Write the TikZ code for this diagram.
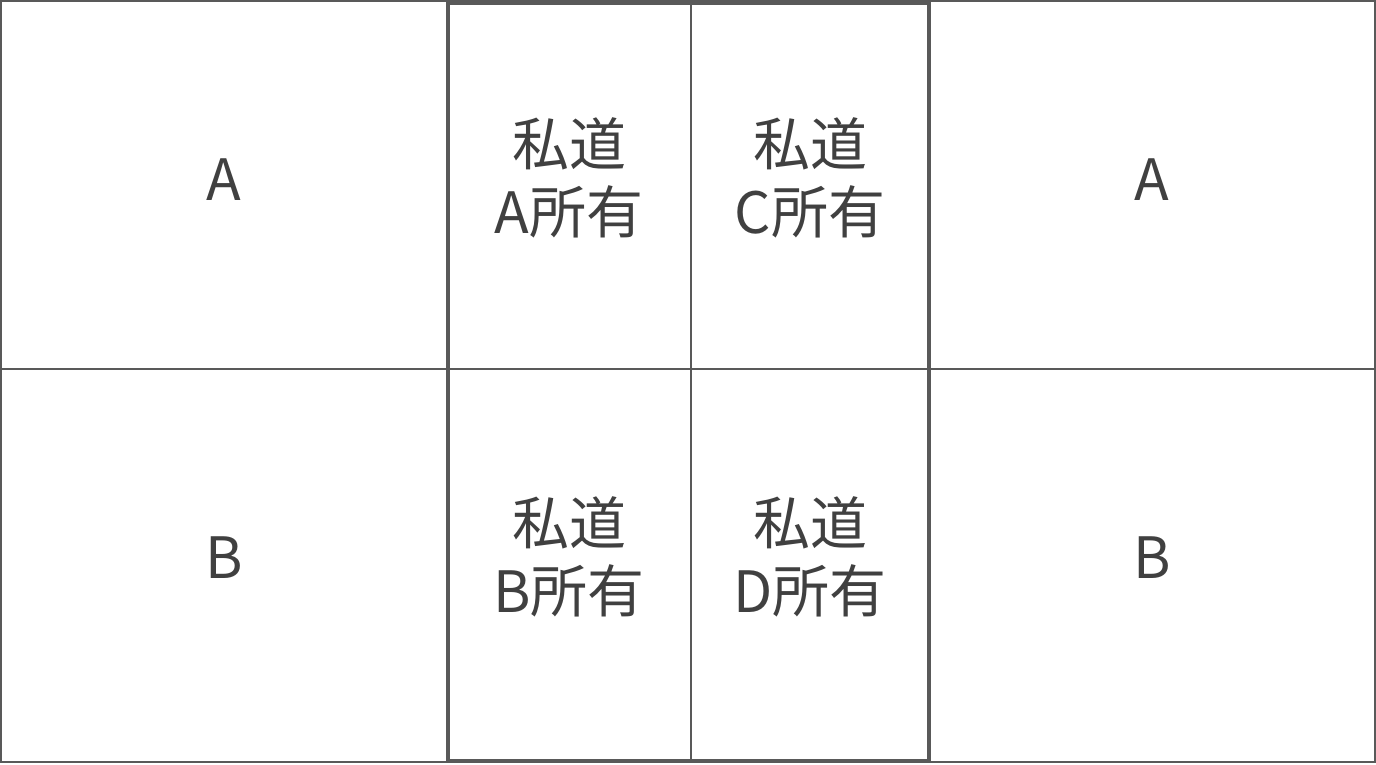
\documentclass[tikz,border=0pt]{standalone}
\usepackage{fontspec}
\setmainfont{Noto Sans CJK JP}
\definecolor{linegray}{HTML}{595959}
\definecolor{textgray}{HTML}{404040}
\begin{document}
\begin{tikzpicture}[x=1pt,y=-1pt,
  thinline/.style={draw=linegray,line width=2pt},
  thickline/.style={draw=linegray,line width=4.5pt},
  lbl/.style={text=textgray,font=\fontsize{57}{68}\selectfont,align=center,inner sep=0pt}]
\useasboundingbox (0,0) rectangle (1376,764);
% grid
\coordinate (tl) at (1,1);
\coordinate (br) at (1375,762);
\coordinate (ml) at (1,369);
\coordinate (mr) at (1375,369);
\coordinate (ct) at (691,3);
\coordinate (cb) at (691,760);
\draw[thinline] (tl) rectangle (br);
\draw[thinline] (ml) -- (mr);
\draw[thinline] (ct) -- (cb);
\coordinate (rtl) at (448,2.5);
\coordinate (rbr) at (929,761);
\draw[thickline] (rtl) rectangle (rbr);
% labels
\node[lbl] (a1) at (224,180) {A};
\node[lbl] (a2) at (1152,180) {A};
\node[lbl] (b1) at (224,558) {B};
\node[lbl] (b2) at (1152,558) {B};
\node[lbl] (pa) at (569,178) {私道\\A所有};
\node[lbl] (pc) at (810,178) {私道\\C所有};
\node[lbl] (pb) at (569,557) {私道\\B所有};
\node[lbl] (pd) at (810,557) {私道\\D所有};
\end{tikzpicture}
\end{document}
